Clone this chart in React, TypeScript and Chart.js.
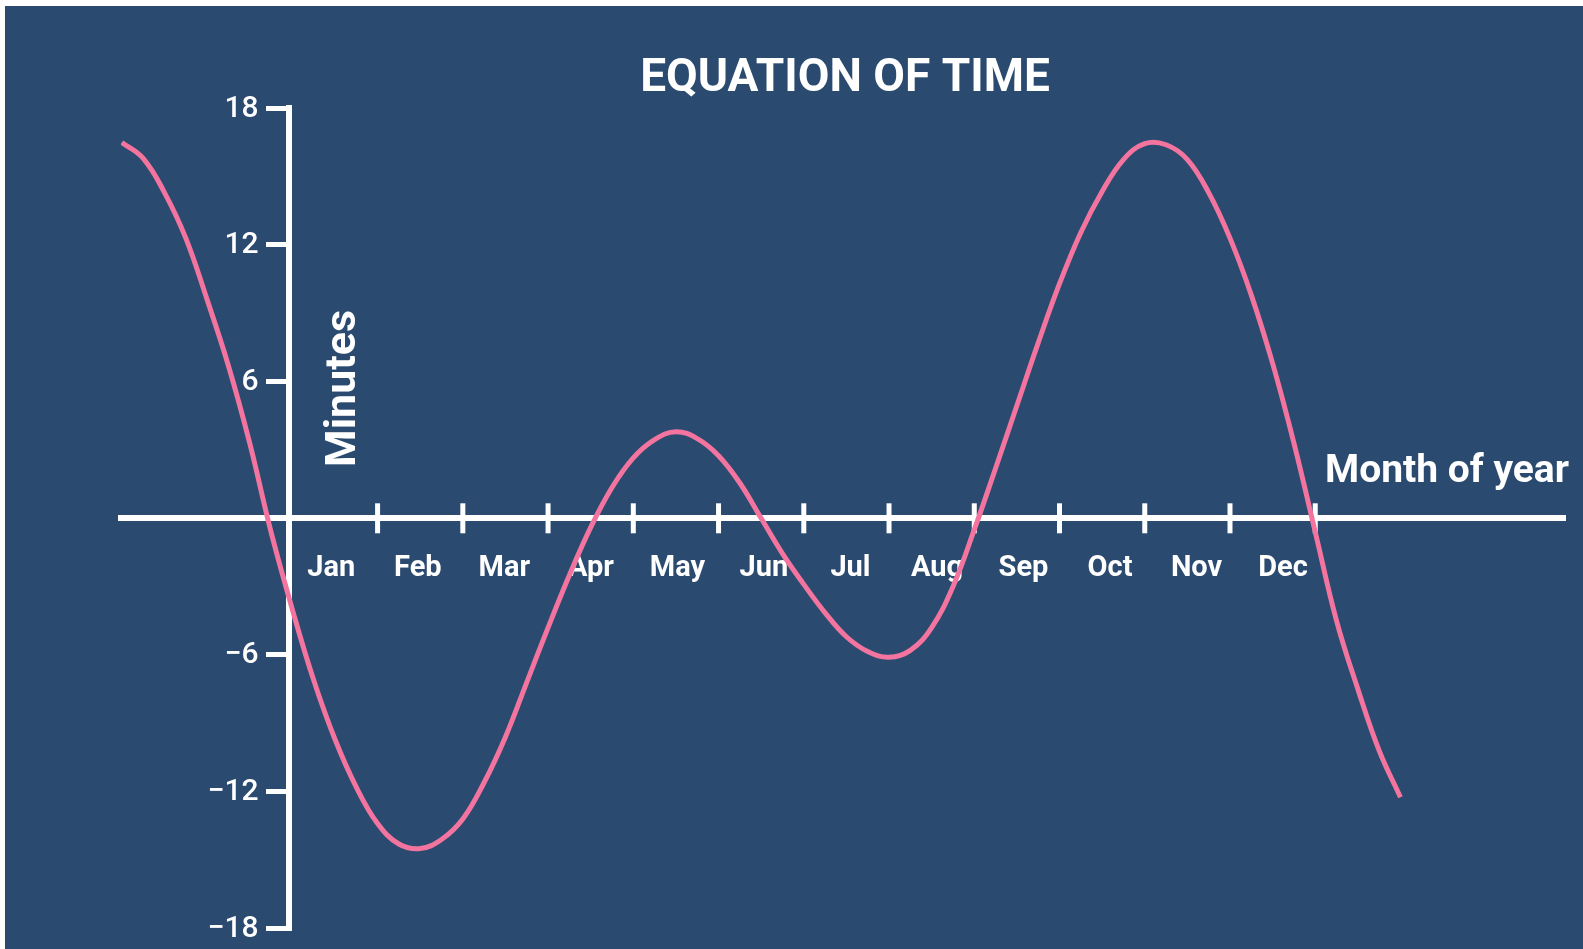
import { useEffect, useRef } from "react";
import { Chart, registerables } from "chart.js";

Chart.register(...registerables);

const TITLE = "EQUATION OF TIME";
const Y_TITLE = "Minutes";
const X_TITLE = "Month of year";
const MONTHS = ["Jan", "Feb", "Mar", "Apr", "May", "Jun", "Jul", "Aug", "Sep", "Oct", "Nov", "Dec"];
const Y_TICKS = [-18, -12, -6, 0, 6, 12, 18];
const Y_LABELS = ["\u221218", "\u221212", "\u22126", "", "6", "12", "18"];

// month offset from 1 Jan (months) and equation of time (minutes)
const EOT_MONTH = [
  -2.0, -1.75, -1.5, -1.25, -1.0, -0.75, -0.5, -0.25, 0.0, 0.25, 0.5, 0.75, 1.0, 1.25, 1.5, 1.75,
  2.0, 2.25, 2.5, 2.75, 3.0, 3.25, 3.5, 3.75, 4.0, 4.25, 4.5, 4.75, 5.0, 5.25, 5.5, 5.75,
  6.0, 6.25, 6.5, 6.75, 7.0, 7.25, 7.5, 7.75, 8.0, 8.25, 8.5, 8.75, 9.0, 9.25, 9.5, 9.75,
  10.0, 10.25, 10.5, 10.75, 11.0, 11.25, 11.5, 11.75, 12.0, 12.25, 12.5, 12.75, 13.0,
];
const EOT_MIN = [
  16.5, 15.8, 14.3, 12.3, 9.6, 6.7, 3.3, -0.6, -4.0, -7.1, -9.7, -11.8, -13.4, -14.3, -14.5, -14.1,
  -13.2, -11.6, -9.6, -7.2, -4.8, -2.5, -0.4, 1.35, 2.65, 3.45, 3.8, 3.5, 2.75, 1.55, 0.0, -1.55,
  -2.9, -4.15, -5.2, -5.85, -6.1, -5.8, -4.8, -3.0, -0.5, 2.2, 4.95, 7.7, 10.3, 12.55, 14.35, 15.75,
  16.45, 16.4, 15.75, 14.3, 12.3, 9.8, 6.8, 3.3, -0.6, -4.5, -7.5, -10.2, -12.25,
];

const BG = "#2b4a6f";
const PINK = "#f2749f";
const WHITE = "#ffffff";
const LABEL_STEP = 1.015; // month labels are spread slightly wider than the ticks in the reference
const LABEL_START = -0.05;

const decorPlugin = {
  id: "decor",
  beforeDatasetsDraw(chart: any) {
    const { ctx, scales } = chart;
    const x = scales.x;
    const y = scales.y;
    const y0 = y.getPixelForValue(0);
    const x0 = x.getPixelForValue(-0.045);
    ctx.save();
    ctx.strokeStyle = WHITE;
    ctx.lineWidth = 5;
    for (let m = 1; m <= MONTHS.length; m++) {
      const px = x.getPixelForValue(m);
      ctx.beginPath();
      ctx.moveTo(px, y0 - 15);
      ctx.lineTo(px, y0 + 15);
      ctx.stroke();
    }
    ctx.fillStyle = WHITE;
    ctx.font = "500 30px Roboto";
    ctx.textAlign = "right";
    ctx.textBaseline = "middle";
    Y_TICKS.forEach((v, i) => {
      ctx.fillText(Y_LABELS[i], x0 - 30, y.getPixelForValue(v) + 1);
    });
    ctx.restore();
  },
  afterDraw(chart: any) {
    const { ctx, scales, chartArea } = chart;
    const x = scales.x;
    const y = scales.y;
    const y0 = y.getPixelForValue(0);
    const x0 = x.getPixelForValue(0);
    ctx.save();
    ctx.fillStyle = WHITE;
    ctx.textBaseline = "alphabetic";

    ctx.font = "700 46px Roboto";
    ctx.textAlign = "center";
    ctx.fillText(TITLE, (chartArea.left + chartArea.right) / 2 + 2, 84.7);

    ctx.font = "700 39px Roboto";
    ctx.textAlign = "right";
    ctx.fillText(X_TITLE, chartArea.right + 4, y0 - 36);

    ctx.save();
    ctx.translate(x0 + 63, y.getPixelForValue(5.7));
    ctx.rotate(-Math.PI / 2);
    ctx.textAlign = "center";
    ctx.font = "700 43px Roboto";
    ctx.fillText(Y_TITLE, 0, 0);
    ctx.restore();

    ctx.restore();
  },
};

export default function App() {
  const canvasRef = useRef<HTMLCanvasElement | null>(null);

  useEffect(() => {
    document.body.style.margin = "0";
    document.body.style.background = "#ffffff";
    const canvas = canvasRef.current;
    if (!canvas) return;
    const points = EOT_MONTH.map((m, i) => ({ x: m, y: EOT_MIN[i] }));
    const chart = new Chart(canvas, {
      type: "line",
      data: {
        datasets: [
          {
            data: points,
            borderColor: PINK,
            borderWidth: 5,
            pointRadius: 0,
            tension: 0.4,
            fill: false,
          },
        ],
      },
      options: {
        animation: false,
        responsive: true,
        maintainAspectRatio: false,
        events: [],
        layout: { padding: { left: 116, right: 18, top: 102.3, bottom: 20.7 } },
        plugins: {
          legend: { display: false },
          tooltip: { enabled: false },
          title: { display: false },
        },
        scales: {
          x: {
            type: "linear",
            min: -2.01,
            max: 14.93,
            position: { y: 0 } as any,
            afterBuildTicks: (s: any) => {
              s.ticks = MONTHS.map((_, i) => ({ value: LABEL_START + LABEL_STEP * (i + 0.5) }));
            },
            ticks: {
              color: WHITE,
              autoSkip: false,
              maxRotation: 0,
              padding: 33,
              font: { family: "Roboto", size: 29, weight: "700" },
              callback: (_v: any, i: number) => MONTHS[i] ?? "",
            },
            grid: { display: false, drawTicks: false },
            border: { display: true, color: WHITE, width: 6 },
          },
          y: {
            type: "linear",
            min: -18,
            max: 18,
            position: { x: -0.045 } as any,
            afterBuildTicks: (s: any) => {
              s.ticks = Y_TICKS.map((v) => ({ value: v }));
            },
            ticks: { display: false },
            grid: { drawOnChartArea: false, drawTicks: true, tickLength: 20, color: WHITE, lineWidth: 5 },
            border: { display: true, color: WHITE, width: 6 },
          },
        },
      },
      plugins: [decorPlugin],
    });
    if ((document as any).fonts?.load) {
      Promise.all([
        (document as any).fonts.load("700 45px Roboto"),
        (document as any).fonts.load("500 28px Roboto"),
      ])
        .then(() => chart.update())
        .catch(() => {});
    }
    return () => chart.destroy();
  }, []);

  return (
    <div style={{ paddingTop: 6, paddingLeft: 5, background: "#ffffff" }}>
      <div style={{ position: "relative", width: 1578, height: 943, background: BG }}>
        <canvas ref={canvasRef} />
      </div>
    </div>
  );
}
